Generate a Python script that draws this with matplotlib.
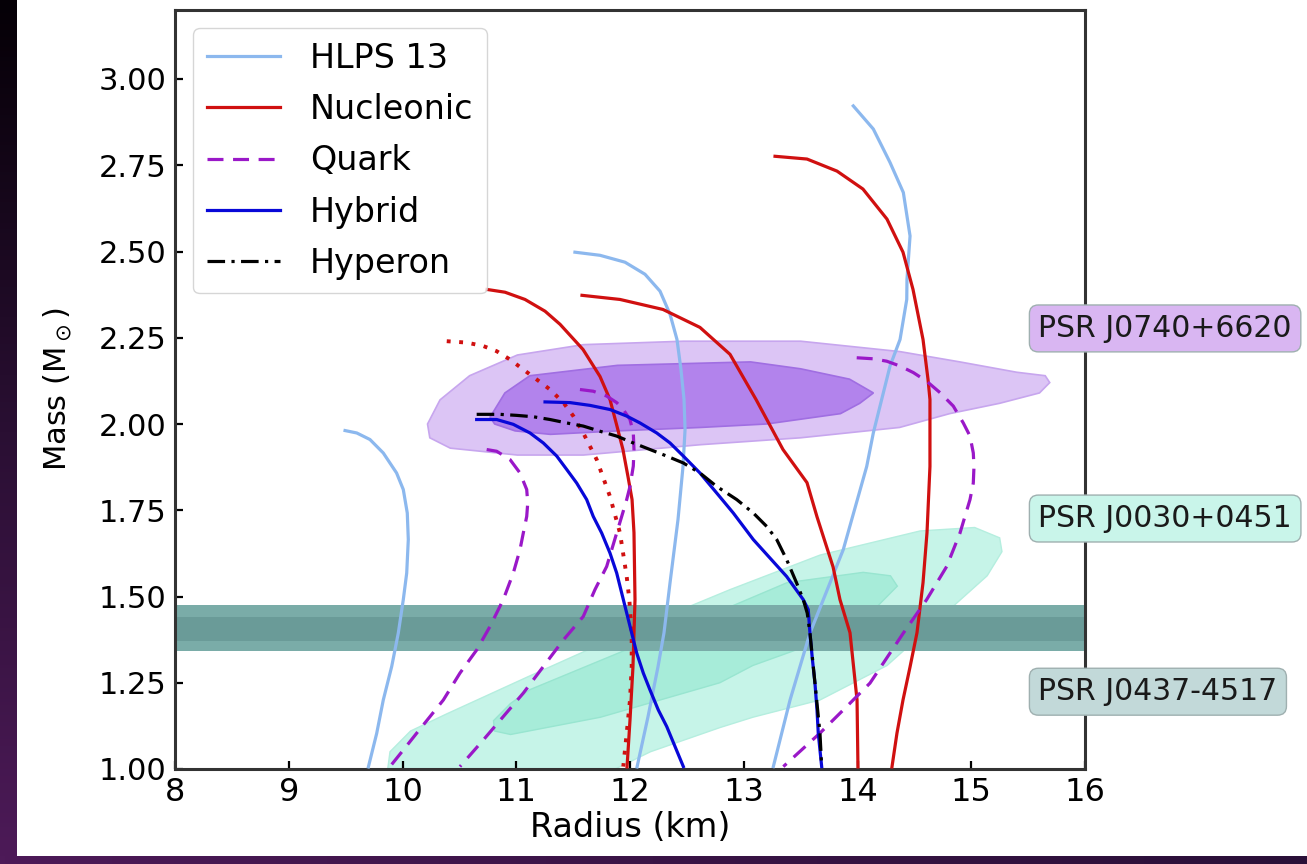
import numpy as np
import matplotlib
matplotlib.use("Agg")
import matplotlib.pyplot as plt

# mass-radius curves (radius km, mass Msun)
hlps_r = [[9.495, 9.598, 9.714, 9.831, 9.948, 10.007, 10.042, 10.051, 10.037, 10.007, 9.963, 9.905, 9.831, 9.773, 9.700],
          [11.516, 11.736, 11.956, 12.132, 12.264, 12.352, 12.413, 12.448, 12.475, 12.484, 12.466, 12.422, 12.352,
           12.299, 12.246, 12.158, 12.062],
          [13.260, 13.407, 13.582, 13.875, 14.081, 14.139, 14.286, 14.374, 14.433, 14.435, 14.462, 14.403, 14.286,
           14.139, 13.963]]
hlps_m = [[1.981, 1.974, 1.955, 1.916, 1.858, 1.810, 1.742, 1.665, 1.568, 1.491, 1.394, 1.297, 1.200, 1.103, 1.006],
          [2.498, 2.489, 2.469, 2.434, 2.385, 2.318, 2.245, 2.158, 2.071, 1.984, 1.877, 1.723, 1.540,
           1.395, 1.296, 1.151, 1.006],
          [1.007, 1.200, 1.394, 1.636, 1.877, 1.974, 2.168, 2.245, 2.361, 2.419, 2.545, 2.671, 2.758,
           2.855, 2.922]]

nuc_r = [[10.743, 10.901, 11.077, 11.253, 11.385, 11.587, 11.736, 11.824, 11.886, 11.938, 11.982, 12.018, 12.035,
          12.044, 12.026, 12.000, 11.974],
         [11.578, 11.912, 12.290, 12.615, 12.879, 13.108, 13.345, 13.556, 13.644, 13.785, 13.846, 13.934, 13.996, 14.004],
         [13.275, 13.556, 13.820, 14.048, 14.259, 14.400, 14.488, 14.576, 14.620, 14.637, 14.637, 14.611, 14.576,
          14.523, 14.462, 14.400, 14.347, 14.303]]
nuc_m = [[2.390, 2.382, 2.361, 2.327, 2.289, 2.216, 2.138, 2.071, 1.993, 1.926, 1.848, 1.781, 1.685,
          1.491, 1.296, 1.142, 1.006],
         [2.373, 2.361, 2.332, 2.280, 2.202, 2.071, 1.926, 1.830, 1.731, 1.586, 1.491, 1.395, 1.200, 1.006],
         [2.776, 2.768, 2.733, 2.681, 2.594, 2.498, 2.390, 2.245, 2.129, 2.071, 1.877, 1.685, 1.540,
          1.395, 1.296, 1.200, 1.104, 1.006]]
nuc_dot_r = [10.389, 10.564, 10.710, 10.828, 10.945, 11.062, 11.180, 11.297, 11.414, 11.502, 11.589, 11.707,
             11.824, 11.912, 11.971, 11.994, 12.015, 12.015, 12.000, 11.971, 11.941]
nuc_dot_m = [2.240, 2.236, 2.226, 2.211, 2.187, 2.158, 2.129, 2.100, 2.062, 2.023, 1.974, 1.897,
             1.790, 1.684, 1.558, 1.491, 1.394, 1.297, 1.200, 1.104, 1.007]

quark_r = [[10.740, 10.828, 10.945, 11.033, 11.092, 11.101, 11.092, 11.062, 11.033, 10.974, 10.886, 10.769,
            10.652, 10.505, 10.359, 10.242, 10.125, 10.007, 9.890],
           [11.560, 11.677, 11.795, 11.883, 11.941, 12.000, 12.029, 12.035, 12.029, 12.000, 11.971, 11.927,
            11.883, 11.795, 11.692, 11.589, 11.414, 11.238, 11.062, 10.886, 10.710, 10.505],
           [13.993, 14.139, 14.257, 14.374, 14.491, 14.608, 14.725, 14.842, 14.930, 14.989, 15.018, 15.024,
            15.018, 14.989, 14.901, 14.784, 14.608, 14.403, 14.110, 13.905, 13.670, 13.348]]
quark_m = [[1.926, 1.921, 1.897, 1.858, 1.810, 1.771, 1.732, 1.684, 1.636, 1.568, 1.491, 1.413,
            1.345, 1.278, 1.200, 1.152, 1.104, 1.055, 1.007],
           [2.100, 2.095, 2.081, 2.062, 2.042, 2.013, 1.974, 1.926, 1.878, 1.819, 1.781, 1.732,
            1.684, 1.587, 1.520, 1.442, 1.374, 1.297, 1.220, 1.152, 1.084, 1.007],
           [2.192, 2.189, 2.182, 2.168, 2.149, 2.124, 2.091, 2.052, 2.003, 1.965, 1.916, 1.877,
            1.829, 1.781, 1.684, 1.587, 1.491, 1.394, 1.249, 1.181, 1.104, 1.007]]

hyb_r = [[10.652, 10.828, 10.974, 11.121, 11.238, 11.356, 11.444, 11.531, 11.619, 11.677, 11.751, 11.824,
          11.883, 11.927, 11.971, 12.015, 12.059, 12.117, 12.176, 12.249, 12.323, 12.396, 12.469],
         [11.253, 11.473, 11.648, 11.824, 11.971, 12.088, 12.235, 12.352, 12.469, 12.615, 12.762, 12.908,
          13.084, 13.377, 13.523, 13.567, 13.582, 13.604, 13.626, 13.644, 13.655, 13.670, 13.685]]
hyb_m = [[2.013, 2.013, 1.999, 1.974, 1.945, 1.907, 1.868, 1.829, 1.781, 1.732, 1.684, 1.626,
          1.568, 1.510, 1.452, 1.394, 1.336, 1.278, 1.229, 1.171, 1.123, 1.065, 1.007],
         [2.064, 2.062, 2.054, 2.042, 2.023, 2.003, 1.974, 1.945, 1.907, 1.858, 1.800, 1.742,
          1.665, 1.558, 1.491, 1.462, 1.394, 1.316, 1.249, 1.171, 1.104, 1.055, 1.007]]

hyp_r = [10.652, 10.857, 11.004, 11.150, 11.297, 11.444, 11.589, 11.736, 11.883, 12.029, 12.176, 12.323,
         12.469, 12.615, 12.762, 12.938, 13.084, 13.202, 13.290, 13.377, 13.465, 13.523, 13.558, 13.582,
         13.626, 13.670, 13.685]
hyp_m = [2.028, 2.028, 2.025, 2.021, 2.013, 2.003, 1.994, 1.979, 1.965, 1.945, 1.926, 1.907,
         1.887, 1.858, 1.819, 1.781, 1.742, 1.703, 1.665, 1.607, 1.539, 1.491, 1.452, 1.394,
         1.249, 1.104, 1.007]

# NICER credible regions (outlines)
j0740_outer_r = [10.22, 10.33, 10.59, 11.01, 11.59, 12.47, 13.50, 14.37, 14.90, 15.40, 15.65, 15.69,
                 15.60, 15.25, 14.81, 14.37, 13.50, 12.62, 11.59, 11.01, 10.42, 10.24]
j0740_outer_m = [2.00, 2.07, 2.14, 2.20, 2.23, 2.24, 2.24, 2.21, 2.18, 2.15, 2.14, 2.12,
                 2.09, 2.06, 2.03, 1.99, 1.96, 1.94, 1.91, 1.91, 1.93, 1.96]
j0740_inner_r = [10.77, 10.90, 11.12, 11.89, 13.06, 13.50, 13.93, 14.14, 14.02, 13.85, 13.20, 12.62,
                 11.89, 11.30, 10.99, 10.81]
j0740_inner_m = [2.02, 2.09, 2.14, 2.17, 2.18, 2.16, 2.13, 2.09, 2.06, 2.03, 2.00, 1.99,
                 1.98, 1.97, 1.98, 2.00]
j0030_outer_r = [9.87, 9.89, 10.07, 10.39, 11.12, 12.00, 12.88, 13.67, 14.55, 15.03, 15.25, 15.27,
                 15.14, 14.70, 14.26, 13.67, 13.08, 12.79, 12.18, 11.87]
j0030_outer_m = [1.00, 1.05, 1.11, 1.16, 1.27, 1.40, 1.52, 1.62, 1.69, 1.70, 1.67, 1.63,
                 1.56, 1.43, 1.30, 1.20, 1.15, 1.12, 1.05, 1.00]
j0030_inner_r = [10.80, 10.95, 11.12, 12.00, 12.88, 13.38, 14.05, 14.29, 14.35, 14.11, 13.67, 13.08,
                 12.79, 11.74, 10.95, 10.81]
j0030_inner_m = [1.14, 1.19, 1.23, 1.35, 1.47, 1.54, 1.57, 1.56, 1.53, 1.45, 1.37, 1.30,
                 1.25, 1.15, 1.10, 1.11]
j0437_band = [1.343, 1.476]
j0437_core = [1.372, 1.441]

psr_names = ["PSR J0740+6620", "PSR J0030+0451", "PSR J0437-4517"]
psr_label_m = [2.277, 1.726, 1.224]
psr_colors = ["#d9b6f2", "#c9f5ea", "#c2d9d9"]

red = "#d01010"
lblue = "#8cb8ee"
violet = "#9a18c8"
blue = "#0808d8"

fig = plt.figure(figsize=(13.07, 8.64), dpi=100)

# slide background strips
grad = np.linspace(0, 1, 256).reshape(-1, 1)
bg = fig.add_axes([0, 0, 17 / 1307, 1])
bg.imshow(grad, aspect="auto", cmap=matplotlib.colors.LinearSegmentedColormap.from_list(
    "slide", ["#050006", "#2a0f33", "#4d1a58"]), extent=[0, 1, 0, 1])
bg.axis("off")
bot = fig.add_axes([0, 0, 1, 8 / 864])
bot.imshow(grad.T, aspect="auto", cmap=matplotlib.colors.LinearSegmentedColormap.from_list(
    "slide2", ["#4d1a58", "#3a1446", "#2a1038"]), extent=[0, 1, 0, 1])
bot.axis("off")

ax = fig.add_axes([175 / 1307, 1 - 769 / 864, 910 / 1307, 759 / 864])

ax.fill(j0740_outer_r, j0740_outer_m, facecolor="#dcc5f5", edgecolor="#c7a6ee", lw=1.2, zorder=1)
ax.fill(j0740_inner_r, j0740_inner_m, facecolor="#b283ec", edgecolor="#a06ee2", lw=1.2, zorder=1.1)
ax.fill(j0030_outer_r, j0030_outer_m, facecolor="#c6f4e8", edgecolor="#b5eedf", lw=1.0, zorder=1)
ax.fill(j0030_inner_r, j0030_inner_m, facecolor="#a7ecd9", edgecolor="#98e5d0", lw=1.0, zorder=1.1)
ax.axhspan(j0437_band[0], j0437_band[1], color="#7aaca8", lw=0, zorder=1.5)
ax.axhspan(j0437_core[0], j0437_core[1], color="#6a9b98", lw=0, zorder=1.6)

lw = 2.3
for i in range(len(hlps_r)):
    ax.plot(hlps_r[i], hlps_m[i], color=lblue, lw=lw, label="HLPS 13" if i == 0 else None, zorder=3)
for i in range(len(nuc_r)):
    ax.plot(nuc_r[i], nuc_m[i], color=red, lw=lw, label="Nucleonic" if i == 0 else None, zorder=3)
ax.plot(nuc_dot_r, nuc_dot_m, color=red, lw=2.8, ls=(0, (1, 2.2)), zorder=3)
for i in range(len(quark_r)):
    ax.plot(quark_r[i], quark_m[i], color=violet, lw=lw, ls=(0, (5, 3)),
            label="Quark" if i == 0 else None, zorder=3)
for i in range(len(hyb_r)):
    ax.plot(hyb_r[i], hyb_m[i], color=blue, lw=lw, label="Hybrid" if i == 0 else None, zorder=3)
ax.plot(hyp_r, hyp_m, color="black", lw=lw, ls=(0, (5.5, 2, 1, 2)), label="Hyperon", zorder=3.5)

for name, m, c in zip(psr_names, psr_label_m, psr_colors):
    ax.text(15.59, m, name, fontsize=21.5, ha="left", va="center", color="#1a1a1a", clip_on=False,
            zorder=5, bbox=dict(boxstyle="round,pad=0.3", fc=c, ec="#9fb0b0", lw=1.0))

ax.set_xlim(8, 16)
ax.set_ylim(1.0, 3.2)
ax.set_xticks(np.arange(8, 17, 1))
ax.set_yticks(np.arange(1.0, 3.01, 0.25))
ax.yaxis.set_major_formatter(matplotlib.ticker.FormatStrFormatter("%.2f"))
ax.tick_params(axis="both", direction="in", length=6, width=1.6, pad=6)
ax.tick_params(axis="x", labelsize=23)
ax.tick_params(axis="y", labelsize=22)
for s in ax.spines.values():
    s.set_linewidth(2.2)
    s.set_color("#333333")
ax.set_xlabel("Radius (km)", fontsize=24, labelpad=2)
ax.set_ylabel(r"Mass (M$_\odot$)", fontsize=22, labelpad=18)

ax.legend(loc="upper left", fontsize=24, handlelength=2.2, handletextpad=0.9,
          labelspacing=0.55, borderaxespad=0.55)

fig.savefig("out.png", dpi=100)
